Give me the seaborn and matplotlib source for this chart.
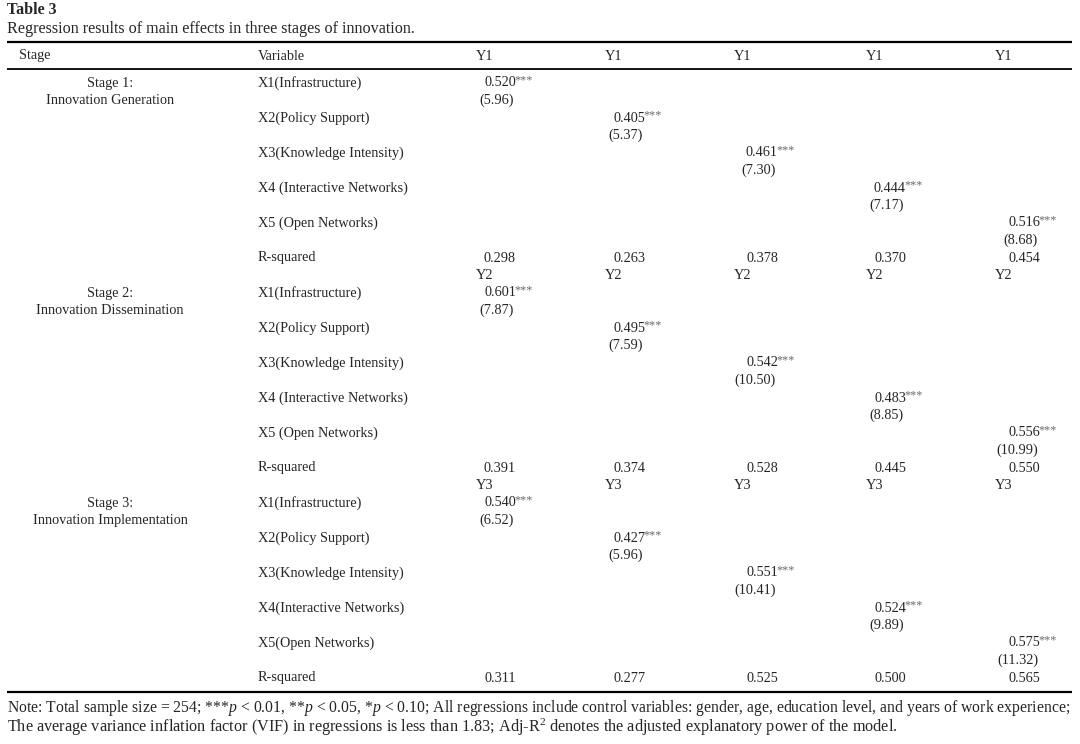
import matplotlib
matplotlib.use("Agg")
import matplotlib.pyplot as plt
import seaborn as sns

# table content
title = "Table 3"
subtitle = "Regression results of main effects in three stages of innovation."
header = ["Stage", "Variable", "Y1", "Y1", "Y1", "Y1", "Y1"]
stages = [["Stage 1:", "Innovation Generation"],
          ["Stage 2:", "Innovation Dissemination"],
          ["Stage 3:", "Innovation Implementation"]]
dep_vars = ["Y1", "Y2", "Y3"]
variables = [["X1(Infrastructure)", "X2(Policy Support)", "X3(Knowledge Intensity)",
              "X4 (Interactive Networks)", "X5 (Open Networks)", "R-squared"],
             ["X1(Infrastructure)", "X2(Policy Support)", "X3(Knowledge Intensity)",
              "X4 (Interactive Networks)", "X5 (Open Networks)", "R-squared"],
             ["X1(Infrastructure)", "X2(Policy Support)", "X3(Knowledge Intensity)",
              "X4(Interactive Networks)", "X5(Open Networks)", "R-squared"]]
coefs = [[0.520, 0.405, 0.461, 0.444, 0.516],
         [0.601, 0.495, 0.542, 0.483, 0.556],
         [0.540, 0.427, 0.551, 0.524, 0.575]]
tstats = [[5.96, 5.37, 7.30, 7.17, 8.68],
          [7.87, 7.59, 10.50, 8.85, 10.99],
          [6.52, 5.96, 10.41, 9.89, 11.32]]
rsq = [[0.298, 0.263, 0.378, 0.370, 0.454],
       [0.391, 0.374, 0.528, 0.445, 0.550],
       [0.311, 0.277, 0.525, 0.500, 0.565]]
stars = "***"
note1 = (r"Note: Total sample size = 254; ***$p$ < 0.01, **$p$ < 0.05, *$p$ < 0.10; "
         r"All regressions include control variables: gender, age, education level, and years of work experience;")
note2 = (r"The average variance inflation factor (VIF) in regressions is less than 1.83; "
         r"Adj-R$^{2}$ denotes the adjusted explanatory power of the model.")

sns.set_theme(style="white")
plt.rcParams["font.family"] = ["Liberation Serif", "DejaVu Serif"]
plt.rcParams["mathtext.fontset"] = "custom"
plt.rcParams["mathtext.rm"] = "Liberation Serif"
plt.rcParams["mathtext.it"] = "Liberation Serif:italic"

fig = plt.figure(figsize=(10.8, 7.44), dpi=100)
ax = fig.add_axes([0, 0, 1, 1])
ax.set_xlim(0, 1080)
ax.set_ylim(744, 0)
ax.axis("off")

fs = 10.3
col_left = [476, 605, 734, 866, 995]
col_right = [516, 645, 778, 906, 1040]
row_h = 35
first_row = 83

ax.text(7, 10, title, fontsize=11.5, fontweight="bold", va="center", ha="left")
ax.text(7, 29, subtitle, fontsize=11.6, va="center", ha="left")

ax.hlines(42, 7, 1072, color="black", lw=1.6)
ax.hlines(69, 7, 1072, color="black", lw=1.3)
ax.hlines(692, 7, 1072, color="black", lw=1.6)

ax.text(19, 56, header[0], fontsize=fs, va="center")
ax.text(258, 56, header[1], fontsize=fs, va="center")
for j, h in enumerate(header[2:]):
    ax.text(col_left[j], 56, h, fontsize=fs, va="center")

for s in range(3):
    y0 = first_row + s * 6 * row_h
    ax.text(110, y0, stages[s][0], fontsize=fs, va="center", ha="center")
    ax.text(110, y0 + row_h / 2, stages[s][1], fontsize=fs, va="center", ha="center")
    for k, var in enumerate(variables[s]):
        ax.text(258, y0 + k * row_h, var, fontsize=fs, va="center")
    for j in range(5):
        y = y0 + j * row_h
        ax.text(col_right[j], y, f"{coefs[s][j]:.3f}", fontsize=fs, va="center", ha="right")
        ax.text(col_right[j] - 1.5, y - 2.5, stars, fontsize=fs * 0.85, va="center", ha="left", color="#6a6a6a")
        ax.text(col_right[j] - 2, y + row_h / 2, f"({tstats[s][j]:.2f})", fontsize=fs, va="center", ha="right")
        yr = y0 + 5 * row_h
        ax.text(col_right[j], yr, f"{rsq[s][j]:.3f}", fontsize=fs, va="center", ha="right")
        if s < 2:
            ax.text(col_left[j], yr + row_h / 2, dep_vars[s + 1], fontsize=fs, va="center")

ax.text(7, 708, note1, fontsize=11.3, va="center")
ax.text(7, 727, note2, fontsize=11.7, va="center")

fig.savefig("out.png", dpi=100)
